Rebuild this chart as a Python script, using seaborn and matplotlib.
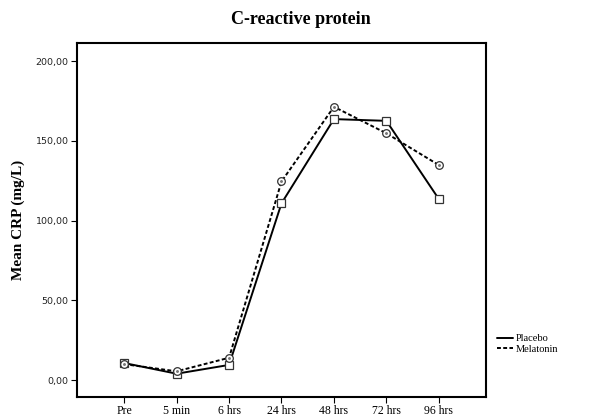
import matplotlib
matplotlib.use("Agg")
import matplotlib.pyplot as plt
import seaborn as sns
import pandas as pd

categories = ["Pre", "5 min", "6 hrs", "24 hrs", "48 hrs", "72 hrs", "96 hrs"]
placebo = [10.7, 4.0, 9.5, 110.8, 163.6, 162.5, 113.5]
melatonin = [10.0, 5.5, 14.0, 124.5, 171.3, 154.7, 134.8]
yticks = [0, 50, 100, 150, 200]
ytick_labels = ["0,00", "50,00", "100,00", "150,00", "200,00"]

sns.set_theme(style="white")
plt.rcParams['font.family'] = ['Liberation Serif', 'DejaVu Serif']
plt.rcParams['text.color'] = 'black'
plt.rcParams['axes.labelcolor'] = 'black'
plt.rcParams['xtick.color'] = 'black'
plt.rcParams['ytick.color'] = 'black'

df = pd.DataFrame({
    "pos": list(range(len(categories))) * 2,
    "CRP": placebo + melatonin,
    "Group": ["Placebo"] * len(categories) + ["Melatonin"] * len(categories),
})

fig = plt.figure(figsize=(6.01, 4.17), dpi=100)
ax = fig.add_axes([77/601, 1 - 397/417, (486-77)/601, (397-43)/417])

sns.lineplot(data=df, x="pos", y="CRP", style="Group", hue="Group",
             palette={"Placebo": "black", "Melatonin": "black"},
             dashes={"Placebo": "", "Melatonin": (2, 1.2)},
             markers={"Placebo": "s", "Melatonin": "o"},
             markersize=5.5, markerfacecolor="white", markeredgecolor="#333333",
             markeredgewidth=0.9, linewidth=1.4, sort=False, ax=ax, legend=False)

# dot inside circles
ax.scatter(range(len(categories)), melatonin, s=1.2, color="#777777", zorder=5)

ax.set_xlim(-0.9, 6.9)
ax.set_ylim(-10.6, 211.3)
ax.set_xticks(range(len(categories)))
ax.set_xticklabels(categories, fontsize=8.5)
ax.set_yticks(yticks)
ax.set_yticklabels(ytick_labels, fontsize=6.8, family=['DejaVu Sans'], color="#222222")
ax.tick_params(axis="both", direction="out", length=4, width=0.8, color="black", pad=2, left=True, bottom=True)
ax.set_xlabel("")
ax.set_ylabel("Mean CRP (mg/L)", fontsize=11, fontweight="bold", labelpad=8)
for s in ax.spines.values():
    s.set_color("black")
    s.set_linewidth(1.5)
    s.set_visible(True)

fig.text(0.5, 1 - 19/417, "C-reactive protein", ha="center", va="center",
         fontsize=13, fontweight="bold")

from matplotlib.lines import Line2D
handles = [Line2D([0], [0], color="black", lw=1.4),
           Line2D([0], [0], color="black", lw=1.4, dashes=(2, 1.2))]
fig.legend(handles, ["Placebo", "Melatonin"], loc="center left",
           bbox_to_anchor=(488/601, 1 - 344/417), frameon=False, fontsize=7.5,
           handlelength=1.5, handletextpad=0.3, labelspacing=0.1)

fig.savefig("out.png", dpi=100, facecolor="white")
